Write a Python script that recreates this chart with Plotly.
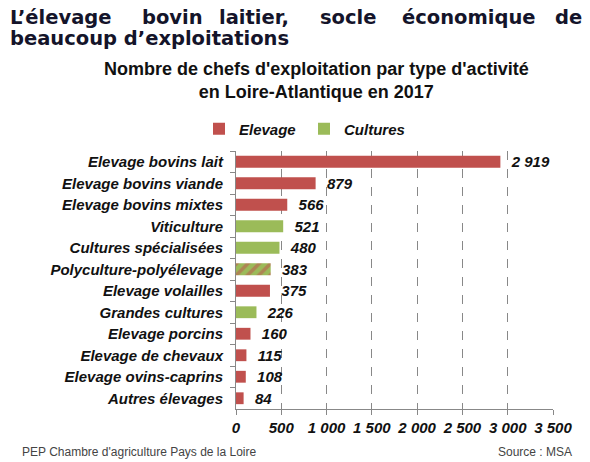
import plotly.graph_objects as go

# %% data
categories = [
    "Elevage bovins lait",
    "Elevage bovins viande",
    "Elevage bovins mixtes",
    "Viticulture",
    "Cultures spécialisées",
    "Polyculture-polyélevage",
    "Elevage volailles",
    "Grandes cultures",
    "Elevage porcins",
    "Elevage de chevaux",
    "Elevage ovins-caprins",
    "Autres élevages",
]
values = [2919, 879, 566, 521, 480, 383, 375, 226, 160, 115, 108, 84]
groups = ["E", "E", "E", "C", "C", "M", "E", "C", "E", "E", "E", "E"]

RED = "#C0504D"
GREEN = "#9BBB59"
FONT = "Liberation Sans, Arial, sans-serif"
TXT = "#111111"

# plot area in pixels
W, H = 590, 462
L, R, T, B = 236, 553, 151, 409


def px(x, y):
    return (x - L) / (R - L), (B - y) / (B - T)


fig = go.Figure()


def add(grp, name, color, show, pattern=None):
    ys = [c for c, g in zip(categories, groups) if g == grp]
    xs = [v for v, g in zip(values, groups) if g == grp]
    marker = dict(color=color, line=dict(width=0))
    if pattern:
        marker["pattern"] = pattern
    fig.add_trace(
        go.Bar(
            x=xs,
            y=ys,
            orientation="h",
            name=name,
            marker=marker,
            showlegend=show,
            text=xs,
            texttemplate="  %{x:,}",
            textposition="outside",
            constraintext="none",
            cliponaxis=False,
            textfont=dict(family=FONT, size=15, color=TXT, weight="bold", style="italic"),
        )
    )


add("E", "Elevage", RED, True)
add("C", "Cultures", GREEN, True)
add("M", "Mixte", GREEN, False,
    pattern=dict(shape="/", fgcolor=RED, bgcolor=GREEN, size=8, solidity=0.45))

fig.update_layout(
    width=W,
    height=H,
    margin=dict(l=L, r=W - R, t=T, b=H - B, autoexpand=False),
    paper_bgcolor="white",
    plot_bgcolor="white",
    barmode="relative",
    bargap=0.45,
    separators=", ",
    font=dict(family=FONT, color=TXT),
    legend=dict(
        orientation="h",
        xref="container",
        yref="container",
        x=199 / W,
        y=1 - 129 / H,
        xanchor="left",
        yanchor="middle",
        font=dict(size=15, weight="bold", style="italic"),
        itemwidth=30,
        entrywidth=60,
        traceorder="normal",
    ),
    xaxis=dict(
        range=[0, 3500],
        dtick=500,
        tickformat=",",
        showgrid=True,
        gridcolor="#888888",
        griddash="dash",
        gridwidth=1,
        showline=True,
        linecolor="#888888",
        ticks="outside",
        ticklen=5,
        tickcolor="#888888",
        zeroline=False,
        tickfont=dict(size=15, weight="bold", style="italic"),
    ),
    yaxis=dict(
        categoryorder="array",
        categoryarray=categories,
        autorange="reversed",
        showline=True,
        linecolor="#888888",
        ticks="outside",
        tickson="boundaries",
        ticklen=5,
        tickcolor="#888888",
        ticklabelstandoff=9,
        showgrid=False,
        tickfont=dict(size=15, weight="bold", style="italic"),
    ),
)

ann = []
# justified main title, line 1 placed word by word
words = [("L’élevage", 8), ("bovin", 140), ("laitier,", 217), ("socle", 318),
         ("économique", 400), ("de", 553)]
for w, x in words:
    ax, ay = px(x, 17)
    ann.append(dict(text=w, x=ax, y=ay, xanchor="left", yanchor="middle"))
ax, ay = px(8, 39)
ann.append(dict(text="beaucoup d’exploitations", x=ax, y=ay, xanchor="left", yanchor="middle"))
for a in ann:
    a.update(xref="paper", yref="paper", showarrow=False,
             font=dict(family="DejaVu Sans, Verdana, sans-serif", size=19.5, color="#14142a", weight="bold"))

ax, ay = px(316, 81)
ann.append(dict(
    text="Nombre de chefs d'exploitation par type d'activité<br>en Loire-Atlantique en 2017",
    x=ax, y=ay, xref="paper", yref="paper", showarrow=False, xanchor="center", yanchor="middle",
    font=dict(family=FONT, size=18, color=TXT, weight="bold"),
))
ax, ay = px(20, 452)
ann.append(dict(text="PEP Chambre d'agriculture Pays de la Loire", x=ax, y=ay, xref="paper", yref="paper",
                showarrow=False, xanchor="left", yanchor="middle",
                font=dict(family=FONT, size=12, color="#444444")))
ax, ay = px(574, 452)
ann.append(dict(text="Source : MSA", x=ax, y=ay, xref="paper", yref="paper",
                showarrow=False, xanchor="right", yanchor="middle",
                font=dict(family=FONT, size=12, color="#444444")))
fig.update_layout(annotations=ann)

fig.write_html("out.html", config={"displayModeBar": False},
               post_script="document.body.style.margin='0';")
